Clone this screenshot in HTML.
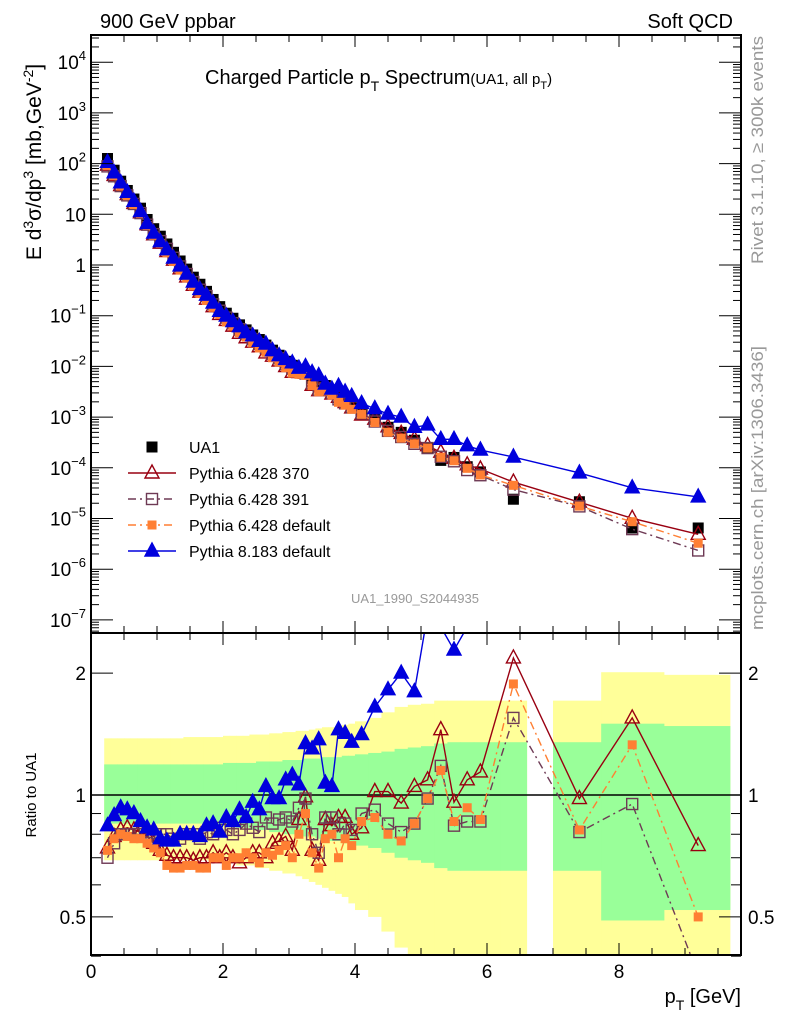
<!DOCTYPE html>
<html><head><meta charset="utf-8"><style>
html,body{margin:0;padding:0;background:#fff;}
svg{display:block;font-family:"Liberation Sans",sans-serif;}
</style></head><body>
<svg id="chart" width="786" height="1024" viewBox="0 0 786 1024" xmlns="http://www.w3.org/2000/svg">
<defs>
<clipPath id="cm"><rect x="91" y="35" width="650" height="598"/></clipPath>
<clipPath id="cr"><rect x="91" y="633" width="650" height="322"/></clipPath>
</defs>
<g id="bands" clip-path="url(#cr)"></g>
<g id="mainMarks" clip-path="url(#cm)"></g>
<g id="ratioMarks" clip-path="url(#cr)"></g>
<g id="axes"></g>
<text x="100" y="28" font-size="20">900 GeV ppbar</text>
<text x="733" y="28" font-size="20" text-anchor="end">Soft QCD</text>
<text x="205" y="84" font-size="20">Charged Particle p<tspan font-size="14" dy="7">T</tspan><tspan dy="-7"> Spectrum</tspan><tspan font-size="15">(UA1, all p</tspan><tspan font-size="11" dy="5">T</tspan><tspan font-size="15" dy="-5">)</tspan></text>
<text x="415" y="603" font-size="13" fill="#999" text-anchor="middle">UA1_1990_S2044935</text>
<text transform="translate(763,150) rotate(-90)" font-size="17" fill="#999" text-anchor="middle" textLength="228" lengthAdjust="spacingAndGlyphs">Rivet 3.1.10, ≥ 300k events</text>
<text transform="translate(763,488) rotate(-90)" font-size="17" fill="#999" text-anchor="middle" textLength="284" lengthAdjust="spacingAndGlyphs">mcplots.cern.ch [arXiv:1306.3436]</text>
<text transform="translate(41,162) rotate(-90)" font-size="21" text-anchor="middle">E d<tspan font-size="14" dy="-8">3</tspan><tspan dy="8">σ/dp</tspan><tspan font-size="14" dy="-8">3</tspan><tspan dy="8"> [mb,GeV</tspan><tspan font-size="14" dy="-8">-2</tspan><tspan dy="8">]</tspan></text>
<text transform="translate(36,795) rotate(-90)" font-size="15" text-anchor="middle">Ratio to UA1</text>
<text x="741" y="1003" font-size="20" text-anchor="end">p<tspan font-size="14" dy="7">T</tspan><tspan dy="-7"> [GeV]</tspan></text>
<g id="legend"></g>
</svg>
<script>
const pT=[0.25,0.35,0.45,0.55,0.65,0.75,0.85,0.95,1.05,1.15,1.25,1.35,1.45,1.55,1.65,1.75,1.85,1.95,2.05,2.15,2.25,2.35,2.45,2.55,2.65,2.75,2.85,2.95,3.05,3.15,3.25,3.35,3.45,3.55,3.65,3.75,3.85,3.95,4.1,4.3,4.5,4.7,4.9,5.1,5.3,5.5,5.7,5.9,6.4,7.4,8.2,9.2];
const binLo=[0.2,0.3,0.4,0.5,0.6,0.7,0.8,0.9,1.0,1.1,1.2,1.3,1.4,1.5,1.6,1.7,1.8,1.9,2.0,2.1,2.2,2.3,2.4,2.5,2.6,2.7,2.8,2.9,3.0,3.1,3.2,3.3,3.4,3.5,3.6,3.7,3.8,3.9,4.0,4.2,4.4,4.6,4.8,5.0,5.2,5.4,5.6,5.8,6.2,7.0,7.73,8.68];
const binHi=[0.3,0.4,0.5,0.6,0.7,0.8,0.9,1.0,1.1,1.2,1.3,1.4,1.5,1.6,1.7,1.8,1.9,2.0,2.1,2.2,2.3,2.4,2.5,2.6,2.7,2.8,2.9,3.0,3.1,3.2,3.3,3.4,3.5,3.6,3.7,3.8,3.9,4.0,4.2,4.4,4.6,4.8,5.0,5.2,5.4,5.6,5.8,6.2,6.6,7.73,8.68,9.68];
const ua1=[126,74,45,29.5,20,13.2,7.9,5.2,3.7,2.6,1.78,1.2,0.83,0.575,0.417,0.302,0.209,0.151,0.112,0.089,0.066,0.0525,0.0417,0.0339,0.0263,0.0209,0.0166,0.0126,0.0105,0.0087,0.0074,0.0058,0.0048,0.0042,0.0034,0.0028,0.0022,0.0019,0.00132,0.00089,0.00063,0.0005,0.00035,0.00025,0.00014,0.00016,0.000105,0.000083,0.000024,0.0000214,0.0000065,0.0000065];
const r370=[0.74,0.79,0.82,0.83,0.82,0.81,0.79,0.76,0.73,0.71,0.70,0.70,0.70,0.69,0.70,0.70,0.72,0.70,0.72,0.70,0.68,0.70,0.72,0.72,0.70,0.76,0.77,0.79,0.73,0.87,0.99,0.73,0.69,0.87,0.84,0.88,0.88,0.80,0.83,1.02,1.02,0.955,1.05,1.09,1.45,0.96,1.09,1.14,2.18,0.98,1.55,0.75];
const r391=[0.70,0.76,0.80,0.80,0.80,0.80,0.79,0.78,0.80,0.80,0.78,0.78,0.80,0.80,0.78,0.81,0.80,0.83,0.82,0.80,0.82,0.85,0.83,0.81,0.88,0.85,0.87,0.88,0.86,0.93,0.98,0.80,0.72,0.88,0.88,0.80,0.85,0.82,0.90,0.92,0.85,0.81,0.85,0.98,1.18,0.84,0.86,0.86,1.55,0.81,0.95,0.36];
const rDef=[0.73,0.78,0.80,0.79,0.78,0.78,0.76,0.74,0.72,0.67,0.66,0.66,0.67,0.67,0.66,0.66,0.70,0.70,0.67,0.70,0.70,0.72,0.70,0.68,0.72,0.71,0.73,0.75,0.70,0.80,0.90,0.72,0.66,0.78,0.80,0.70,0.78,0.75,0.86,0.88,0.80,0.77,0.85,0.98,1.15,0.86,0.93,0.87,1.88,0.82,1.33,0.50];
const rP8=[0.84,0.89,0.93,0.92,0.90,0.86,0.83,0.82,0.78,0.77,0.77,0.80,0.80,0.80,0.79,0.84,0.85,0.81,0.88,0.86,0.92,0.88,0.96,0.92,1.05,0.98,0.98,1.09,1.12,1.06,1.34,1.30,1.37,1.07,1.05,1.45,1.42,1.35,1.41,1.65,1.82,2.0,1.80,2.8,2.6,2.28,2.6,2.7,6.8,3.7,6.2,4.1];
const yHi=[1.38,1.38,1.38,1.38,1.38,1.38,1.38,1.38,1.38,1.38,1.38,1.38,1.39,1.39,1.39,1.39,1.39,1.39,1.40,1.40,1.40,1.40,1.41,1.41,1.41,1.42,1.42,1.43,1.43,1.44,1.44,1.45,1.46,1.47,1.47,1.48,1.49,1.50,1.52,1.55,1.60,1.65,1.67,1.68,1.71,1.71,1.71,1.71,1.71,1.71,2.01,1.98];
const gHi=[1.19,1.19,1.19,1.19,1.19,1.19,1.19,1.19,1.19,1.19,1.19,1.19,1.19,1.19,1.19,1.19,1.19,1.19,1.20,1.20,1.20,1.20,1.20,1.21,1.21,1.21,1.21,1.22,1.22,1.22,1.23,1.23,1.23,1.24,1.24,1.24,1.25,1.25,1.26,1.27,1.28,1.30,1.31,1.32,1.34,1.35,1.35,1.35,1.35,1.35,1.50,1.48];
const gLo=[0.85,0.85,0.85,0.85,0.85,0.85,0.85,0.85,0.85,0.85,0.85,0.85,0.85,0.85,0.85,0.85,0.85,0.84,0.84,0.84,0.83,0.83,0.82,0.82,0.82,0.81,0.81,0.80,0.80,0.80,0.79,0.79,0.78,0.78,0.77,0.77,0.76,0.76,0.75,0.74,0.72,0.70,0.69,0.68,0.66,0.65,0.65,0.65,0.65,0.65,0.49,0.52];
const yLo=[0.69,0.69,0.69,0.69,0.69,0.69,0.69,0.69,0.69,0.69,0.69,0.69,0.69,0.69,0.69,0.69,0.69,0.68,0.68,0.68,0.67,0.67,0.67,0.66,0.66,0.65,0.65,0.64,0.64,0.63,0.62,0.61,0.60,0.59,0.58,0.57,0.56,0.54,0.52,0.50,0.46,0.42,0.40,0.38,0.35,0.35,0.35,0.35,0.35,0.3,0.3,0.3];
const xTicks=[0,2,4,6,8];
const mainDecades=[4,3,2,1,0,-1,-2,-3,-4,-5,-6,-7];
const ratioTicks=[0.5,1,2];

const NS="http://www.w3.org/2000/svg";
const X=v=>91+66*v;
const YM=v=>265-50.7*Math.log10(v);
const YR=v=>795-405*Math.log10(v);
function mk(tag,attrs,parent){const e=document.createElementNS(NS,tag);for(const k in attrs)e.setAttribute(k,attrs[k]);parent.appendChild(e);return e;}
const bands=document.getElementById('bands'),mm=document.getElementById('mainMarks'),rm=document.getElementById('ratioMarks'),ax=document.getElementById('axes'),lg=document.getElementById('legend');

pT.forEach((p,i)=>{
  let e=mk('rect',{x:X(binLo[i]),y:YR(yHi[i]),width:X(binHi[i])-X(binLo[i])+0.5,height:YR(yLo[i])-YR(yHi[i]),fill:'#ffff99'},bands);
  
  
});
pT.forEach((p,i)=>{
  let e=mk('rect',{x:X(binLo[i]),y:YR(gHi[i]),width:X(binHi[i])-X(binLo[i])+0.5,height:YR(gLo[i])-YR(gHi[i]),fill:'#99ff99'},bands);
  
  
});
let ul=mk('line',{x1:91,x2:741,y1:YR(1),y2:YR(1),stroke:'#000','stroke-width':1.5},rm);



const series=[
 {name:'pythia-6428-370',r:r370,col:'#990011',dash:'',m:'tri-open'},
 {name:'pythia-6428-391',r:r391,col:'#6e3a55',dash:'8,4,2,4',m:'sq-open'},
 {name:'pythia-6428-default',r:rDef,col:'#ff7f33',dash:'8,4,2,4',m:'sq-fill'},
 {name:'pythia-8183-default',r:rP8,col:'#0000dd',dash:'',m:'tri-fill'}
];
function marker(type,x,y,col,parent,nm){
  let e;
  if(type==='tri-open'||type==='tri-fill'){
    e=mk('polygon',{points:`${x-7},${y+5} ${x+7},${y+5} ${x},${y-8}`,fill:type==='tri-fill'?col:'#fff','fill-opacity':type==='tri-fill'?1:0,stroke:col,'stroke-width':1.4},parent);
  } else if(type==='sq-open'){
    e=mk('rect',{x:x-5.5,y:y-5.5,width:11,height:11,fill:'none',stroke:col,'stroke-width':1.4},parent);
  } else if(type==='sq-fill'){
    e=mk('rect',{x:x-4.5,y:y-4.5,width:9,height:9,fill:col},parent);
  } else {
    e=mk('rect',{x:x-5.5,y:y-5.5,width:11,height:11,fill:'#000'},parent);
  }
  
  
  return e;
}
pT.forEach((p,i)=>marker('sq-black',X(p),YM(ua1[i]),'#000',mm,'ua1-point'));
series.forEach(s=>{
  const ptsM=pT.map((p,i)=>X(p)+','+YM(ua1[i]*s.r[i])).join(' ');
  let l=mk('polyline',{points:ptsM,fill:'none',stroke:s.col,'stroke-width':1.4,'stroke-dasharray':s.dash},mm);
  
  
  pT.forEach((p,i)=>marker(s.m,X(p),YM(ua1[i]*s.r[i]),s.col,mm,s.name+'-point'));
  const ptsR=pT.map((p,i)=>X(p)+','+YR(s.r[i])).join(' ');
  let l2=mk('polyline',{points:ptsR,fill:'none',stroke:s.col,'stroke-width':1.4,'stroke-dasharray':s.dash},rm);
  
  
  pT.forEach((p,i)=>marker(s.m,X(p),YR(s.r[i]),s.col,rm,s.name+'-ratio-point'));
});

[[35,633],[633,955]].forEach(([t,b],k)=>{
  let f=mk('rect',{x:91,y:t,width:650,height:b-t,fill:'none',stroke:'#000','stroke-width':2},ax);
  
  
  for(let v=0;v<=9.75;v+=0.5){
    const maj=Math.abs(v/2-Math.round(v/2))<1e-6, L=maj?12:7;
    mk('line',{x1:X(v),x2:X(v),y1:t,y2:t+L,stroke:'#000','stroke-width':1},ax);
    mk('line',{x1:X(v),x2:X(v),y1:b,y2:b-L,stroke:'#000','stroke-width':1},ax);
  }
});
xTicks.forEach(v=>{
  let t=mk('text',{x:X(v),y:978,'font-size':19,'text-anchor':'middle'},ax);t.textContent=v;
  
  
});
for(let d=-8;d<=4;d++){
  for(let m=1;m<10;m++){
    const y=YM(m*Math.pow(10,d)); if(y<35||y>633) continue;
    const L=m===1?22:8;
    mk('line',{x1:91,x2:91+L,y1:y,y2:y,stroke:'#000','stroke-width':1},ax);
    mk('line',{x1:741,x2:741-L,y1:y,y2:y,stroke:'#000','stroke-width':1},ax);
  }
}
mainDecades.forEach(d=>{
  const y=YM(Math.pow(10,d))+7;
  let t=mk('text',{x:86,y:y,'font-size':19,'text-anchor':'end'},ax);
  
  
  if(d===1) t.textContent='10'; else if(d===0) t.textContent='1';
  else { t.textContent='10'; const s=document.createElementNS(NS,'tspan'); s.setAttribute('font-size','13'); s.setAttribute('dy','-9'); s.textContent=d<0?'\u2212'+(-d):String(d); t.appendChild(s); }
});
[0.4,0.5,0.6,0.7,0.8,0.9,1,2].forEach(v=>{
  const y=YR(v); const L=(v===0.5||v===1||v===2)?22:10;
  mk('line',{x1:91,x2:91+L,y1:y,y2:y,stroke:'#000'},ax);
  mk('line',{x1:741,x2:741-L,y1:y,y2:y,stroke:'#000'},ax);
});
ratioTicks.forEach(v=>{
  let t=mk('text',{x:86,y:YR(v)+7,'font-size':19,'text-anchor':'end'},ax);t.textContent=v;
  
  
  let t2=mk('text',{x:748,y:YR(v)+7,'font-size':19},ax);t2.textContent=v;
  
  
});
const legNames=['UA1','Pythia 6.428 370','Pythia 6.428 391','Pythia 6.428 default','Pythia 8.183 default'];
const legTypes=['sq-black','tri-open','sq-open','sq-fill','tri-fill'];
const legCols=['#000','#990011','#6e3a55','#ff7f33','#0000dd'];
const legDash=['','','8,4,2,4','8,4,2,4',''];
legNames.forEach((n,i)=>{
  const y=447+26*i;
  if(i>0){let l=mk('line',{x1:128,x2:176,y1:y,y2:y,stroke:legCols[i],'stroke-width':1.4,'stroke-dasharray':legDash[i]},lg);
    
    }
  marker(legTypes[i],152,y,legCols[i],lg,'legend-marker');
  let t=mk('text',{x:189,y:y+6,'font-size':16},lg);t.textContent=n;
  
  
});
</script>
</body></html>
